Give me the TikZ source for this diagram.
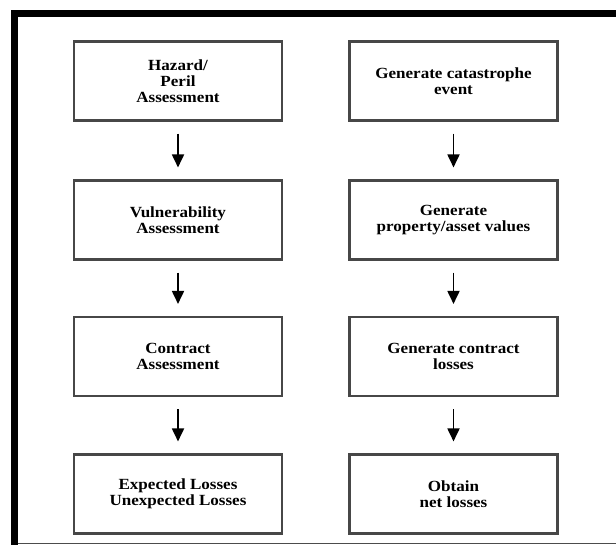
\documentclass[tikz,border=0pt]{standalone}
\usepackage{fontspec}
\setmainfont{Liberation Serif}[FakeStretch=1.1]
\usetikzlibrary{arrows.meta}
\begin{document}
\begin{tikzpicture}[x=1pt,y=-1pt,
  stepbox/.style={draw=black!72,line width=2.1pt,minimum width=208pt,minimum height=79pt,
    align=center,inner sep=0pt,font=\fontsize{15.5}{16}\selectfont\bfseries},
  flow/.style={-{Triangle[width=12pt,length=13pt]},line width=1.8pt,shorten <=12pt,shorten >=12pt}]
\useasboundingbox (0,0) rectangle (616,545);
% frame
\fill (11,10) rectangle (616,17.5);
\fill (11,10) rectangle (18,545);
\draw[black!70,line width=1.2pt] (18,543.5) -- (616,543.5);
% left column
\node[stepbox] (haz) at (178,81) {Hazard/\\Peril\\Assessment};
\node[stepbox] (vul) at (178,220) {Vulnerability\\Assessment};
\node[stepbox] (con) at (178,356.5) {Contract\\Assessment};
\node[stepbox] (exp) at (178,494) {Expected Losses\\Unexpected Losses};
% right column
\node[stepbox] (gen) at (453.5,81) {Generate catastrophe\\event};
\node[stepbox] (pro) at (453.5,220) {Generate\\property/asset values};
\node[stepbox] (los) at (453.5,356.5) {Generate contract\\losses};
\node[stepbox] (net) at (453.5,494) {Obtain\\net losses};
\foreach \a/\b in {haz/vul,vul/con,con/exp,gen/pro,pro/los,los/net}
  \draw[flow] (\a) -- (\b);
\end{tikzpicture}
\end{document}
